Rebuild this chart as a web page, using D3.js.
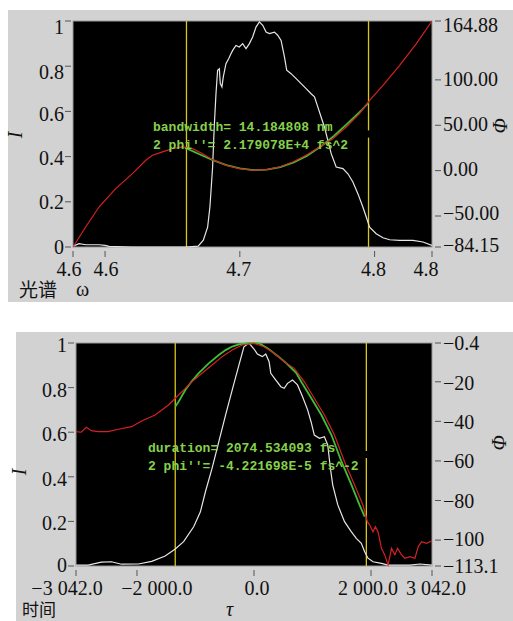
<!DOCTYPE html>
<html>
<head>
<meta charset="utf-8">
<script src="https://cdn.jsdelivr.net/npm/d3@7"></script>
<style>
  body { margin: 0; background: #fff; }
  svg { display: block; }
</style>
</head>
<body>
<svg id="chart" width="513" height="621"></svg>
<script>
// ---- top panel: spectrum ----
const specOmegaTicks = [4.5762, 4.6, 4.7, 4.8, 4.8426];
const specPhaseTicks = [164.88, 100, 50, 0, -50, -84.15];
const specCursors = [4.6604, 4.7955];
const specText = ["bandwidth= 14.184808 nm", "2 phi''= 2.179078E+4 fs^2"];

// intensity (white)
const specOmega = [4.5762, 4.5807, 4.5856, 4.5906, 4.5955, 4.6, 4.603, 4.62, 4.64, 4.66, 4.6691, 4.6729, 4.6761,
  4.6778, 4.6798, 4.681, 4.6823, 4.6835, 4.6848, 4.6855, 4.6867, 4.6877, 4.6897, 4.6917, 4.6934, 4.6947,
  4.6971, 4.6996, 4.7021, 4.7046, 4.7071, 4.7095, 4.712, 4.7145, 4.717, 4.7195, 4.7219, 4.7257, 4.7281,
  4.7306, 4.7331, 4.7348, 4.738, 4.7418, 4.7455, 4.7492, 4.7529, 4.7554, 4.7579, 4.7603, 4.7628, 4.7653,
  4.7678, 4.7715, 4.7765, 4.7802, 4.7839, 4.7876, 4.7913, 4.7938, 4.7963, 4.8012, 4.8062, 4.8112, 4.8186,
  4.8285, 4.8359, 4.8426];
const specI = [0.004, 0.015, 0.01, 0.01, 0.01, 0.007, 0.003, 0, 0, 0, 0.004, 0.03, 0.088,
  0.177, 0.354, 0.531, 0.678, 0.782, 0.789, 0.723, 0.708, 0.752, 0.811, 0.833, 0.855, 0.87,
  0.892, 0.885, 0.9, 0.878, 0.9, 0.929, 0.973, 0.996, 0.981, 0.951, 0.944, 0.951, 0.937,
  0.914, 0.841, 0.782, 0.767, 0.745, 0.723, 0.701, 0.678, 0.664, 0.619, 0.575, 0.531, 0.472,
  0.413, 0.354, 0.347, 0.324, 0.288, 0.236, 0.177, 0.133, 0.088, 0.059, 0.041, 0.032, 0.029,
  0.029, 0.022, 0.007];

// phase (red)
const specPhaseOmega = [4.5762, 4.5856, 4.5955, 4.6079, 4.6203, 4.6302, 4.6352, 4.6426, 4.6501, 4.6575,
  4.6649, 4.6724, 4.6798, 4.6897, 4.6996, 4.7095, 4.7195, 4.7294, 4.7393, 4.7492, 4.7591, 4.769,
  4.7789, 4.7888, 4.7963, 4.8062, 4.8186, 4.831, 4.8426];
const specPhase = [-84.15, -62.1, -40.1, -19.8, -3.3, 11.4, 16.9, 20.6, 24.2, 26.1,
  24.2, 18.7, 12.1, 5.9, 2.2, 0.4, 1.1, 4.0, 9.5, 16.9, 26.1, 35.2,
  48.1, 62.8, 77.5, 94.0, 116.0, 139.9, 164.88];

// fit (green)
const specFitOmega = [4.6604, 4.67, 4.68, 4.69, 4.70, 4.71, 4.72, 4.73, 4.74, 4.75, 4.76, 4.77, 4.78, 4.79, 4.7955];
const specFit = [24.5, 18.0, 11.5, 6.0, 2.5, 0.6, 1.0, 3.8, 9.0, 16.5, 26.5, 38.5, 52.0, 66.0, 75.0];

// ---- bottom panel: time ----
const timeTauTicks = [-3042, -2000, 0, 2000, 3042];
const timePhaseTicks = [-0.4, -20, -40, -60, -80, -100, -113.1];
const timeCursors = [-1346, 1920];
const timeText = ["duration= 2074.534093 fs", "2 phi''= -4.221698E-5 fs^-2"];

const timeTau = [-3042, -2836, -2608, -2436, -2264, -1977, -1748, -1518, -1346, -1203, -1031, -916, -830,
  -717, -602, -486, -373, -258, -172, -86, 0, 57, 143, 201, 258, 287, 373, 459, 516, 573, 659, 744, 830,
  916, 975, 1031, 1117, 1203, 1260, 1306, 1346, 1432, 1547, 1662, 1748, 1834, 1891, 1948, 2034, 2178,
  2291, 2664, 2836, 3042];
const timeI = [0.004, 0.004, 0.017, 0.019, 0.008, 0.009, 0.021, 0.045, 0.076, 0.109, 0.176, 0.243, 0.333,
  0.438, 0.557, 0.677, 0.789, 0.901, 0.983, 1.0, 0.973, 0.951, 0.939, 0.951, 0.916, 0.864, 0.834, 0.804,
  0.797, 0.819, 0.834, 0.812, 0.759, 0.7, 0.647, 0.587, 0.573, 0.58, 0.543, 0.438, 0.363, 0.274, 0.199,
  0.154, 0.124, 0.102, 0.064, 0.035, 0.019, 0.012, 0.004, 0.004, 0.009, 0.004];

const timePhaseTau = [-3042, -2952, -2866, -2780, -2664, -2493, -2321, -2092, -1920, -1690, -1461, -1346,
  -1174, -1061, -889, -717, -545, -373, -201, 0, 172, 344, 516, 688, 860, 1031, 1203, 1375, 1547, 1719,
  1862, 1937, 1977, 2034, 2075, 2120, 2178, 2235, 2291, 2350, 2407, 2453, 2522, 2579, 2664, 2750, 2807,
  2865, 2951, 3038];
const timePhase = [-45.2, -45.5, -43.0, -44.7, -45.2, -45.2, -44.0, -42.7, -39.8, -36.8, -31.7, -28.3,
  -23.3, -20.0, -15.7, -11.5, -7.3, -3.9, -1.4, -0.6, -2.3, -5.6, -9.9, -13.2, -20.0, -28.3, -36.8, -46.9,
  -60.4, -72.2, -82.3, -90.7, -92.4, -95.8, -93.2, -95.8, -104.2, -107.5, -112.6, -104.2, -107.5, -104.2,
  -107.5, -109.2, -108.4, -109.2, -103.3, -100.8, -101.6, -100.5];

const timeFitTau = [-1346, -1289, -1174, -1061, -945, -774, -602, -486, -373, -258, -86, 86, 230, 400,
  560, 720, 808, 980, 1152, 1324, 1496, 1667, 1805, 1891];
const timeFit = [-32.6, -30.1, -24.2, -19.6, -15.6, -10.7, -6.5, -4.0, -2.2, -1.1, -0.4, -0.5, -3.0, -6.8,
  -10.8, -15.5, -20.0, -28.3, -36.8, -46.9, -60.4, -72.2, -82.3, -88.2];

const svg = d3.select('#chart');
const serif = '"Liberation Serif", "DejaVu Serif", serif';
const cjk = '"Noto Sans CJK SC", sans-serif';

const loc = d3.formatLocale({decimal: ".", thousands: " ", grouping: [3], currency: ["", ""], minus: "\u2212"});

function zip(xs, ys) { return xs.map((x, i) => [x, ys[i]]); }

function drawPanel(p) {
  const g = svg.append('g');
  g.append('rect').attr('x', p.bg[0]).attr('y', p.bg[1]).attr('width', p.bg[2]).attr('height', p.bg[3])
    .attr('fill', '#d2d2d2');

  const x = d3.scaleLinear().domain(p.xDomain).range([p.left, p.right]);
  const yI = d3.scaleLinear().domain([0, 1]).range([p.bottom, p.top]);
  const yP = d3.scaleLinear().domain(p.pDomain).range([p.bottom, p.top]);

  g.append('rect').attr('x', p.left).attr('y', p.top)
    .attr('width', p.right - p.left).attr('height', p.bottom - p.top)
    .attr('fill', '#000').attr('stroke', '#9a9a9a').attr('stroke-width', 1);

  // cursors, with the little break in the right one
  const h = p.bottom - p.top;
  p.cursors.forEach((c, i) => {
    const segs = i === 1 ? [[p.top, p.top + h * 0.484], [p.top + h * 0.516, p.bottom]] : [[p.top, p.bottom]];
    segs.forEach(s => g.append('line').attr('x1', x(c)).attr('x2', x(c)).attr('y1', s[0]).attr('y2', s[1])
      .attr('stroke', '#d9c51c').attr('stroke-width', 1.3));
  });

  const clip = 'clip' + p.id;
  g.append('clipPath').attr('id', clip).append('rect')
    .attr('x', p.left).attr('y', p.top - 1).attr('width', p.right - p.left).attr('height', h + 2);
  const plot = g.append('g').attr('clip-path', `url(#${clip})`);

  const lineI = d3.line().x(d => x(d[0])).y(d => yI(d[1]));
  const lineP = d3.line().x(d => x(d[0])).y(d => yP(d[1]));

  plot.append('path').attr('d', lineI(zip(p.iX, p.iY)))
    .attr('fill', 'none').attr('stroke', '#e6e6e6').attr('stroke-width', 1.2);
  plot.append('path').attr('d', lineP(zip(p.fitX, p.fitY)))
    .attr('fill', 'none').attr('stroke', '#3fbf35').attr('stroke-width', 1.8);
  plot.append('path').attr('d', lineP(zip(p.pX, p.pY)))
    .attr('fill', 'none').attr('stroke', '#d42222').attr('stroke-width', 1.2);

  // annotation
  p.text.forEach((t, i) => {
    g.append('text').attr('x', p.textPos[0]).attr('y', p.textPos[1] + i * 18)
      .attr('font-family', '"Liberation Mono", monospace').attr('font-size', 13).attr('font-weight', 'bold')
      .attr('fill', '#86d14c').attr('xml:space', 'preserve').text(t);
  });

  // left axis
  const tickColor = '#555';
  [0, 0.2, 0.4, 0.6, 0.8, 1].forEach((v, i) => {
    g.append('line').attr('x1', p.left - 8).attr('x2', p.left - 2).attr('y1', yI(v)).attr('y2', yI(v))
      .attr('stroke', tickColor);
    g.append('text').attr('x', p.left - 9).attr('y', yI(v) + p.lDy[i]).attr('dy', '0.35em')
      .attr('text-anchor', 'end').attr('font-family', serif).attr('font-size', 20).attr('fill', '#111')
      .text(d3.format('~g')(v));
  });

  // right axis
  p.pTicks.forEach((v, i) => {
    g.append('line').attr('x1', p.right + 3).attr('x2', p.right + 9).attr('y1', yP(v)).attr('y2', yP(v))
      .attr('stroke', tickColor);
    g.append('text').attr('x', p.right + 11).attr('y', yP(v) + p.rDy[i]).attr('dy', '0.35em')
      .attr('font-family', serif).attr('font-size', 20).attr('fill', '#111')
      .text(p.pFormat(v));
  });

  // bottom axis
  p.xTicks.forEach((v, i) => {
    g.append('line').attr('x1', x(v)).attr('x2', x(v)).attr('y1', p.bottom + 4).attr('y2', p.bottom + 10)
      .attr('stroke', tickColor);
    g.append('text').attr('x', x(v) + p.xDx[i]).attr('y', p.bottom + 29)
      .attr('text-anchor', 'middle').attr('font-family', serif).attr('font-size', 20).attr('fill', '#111')
      .text(p.xFormat(v));
  });

  // axis names
  g.append('text').attr('transform', `translate(${p.iLabel[0]},${p.iLabel[1]}) rotate(-90)`)
    .attr('text-anchor', 'middle').attr('font-family', serif).attr('font-style', 'italic')
    .attr('font-size', 20).attr('fill', '#111').text('I');
  g.append('text').attr('transform', `translate(${p.phiLabel[0]},${p.phiLabel[1]}) rotate(-90)`)
    .attr('text-anchor', 'middle').attr('font-family', serif).attr('font-style', 'italic')
    .attr('font-size', 20).attr('fill', '#111').text('Φ');
  g.append('text').attr('x', p.name[0]).attr('y', p.name[1]).attr('font-family', cjk)
    .attr('font-size', p.name[3]).attr('fill', '#111').text(p.name[2]);
  g.append('text').attr('x', p.sym[0]).attr('y', p.sym[1]).attr('font-family', serif)
    .attr('font-style', p.sym[3]).attr('font-size', 20).attr('fill', '#111').text(p.sym[2]);
}

drawPanel({
  id: 'top', bg: [8, 10, 505, 292],
  left: 73, right: 432, top: 21, bottom: 247,
  xDomain: [4.5762, 4.8426], pDomain: [-84.15, 164.88],
  xTicks: specOmegaTicks, xDx: [-4, 1, -1, -1, -6], xFormat: d3.format('.1f'),
  pTicks: specPhaseTicks, rDy: [4, -1, -1, -2, -3, -2], pFormat: v => loc.format('.2f')(v),
  lDy: [0, 0, 1, 3, 6, 6],
  cursors: specCursors,
  iX: specOmega, iY: specI, pX: specPhaseOmega, pY: specPhase, fitX: specFitOmega, fitY: specFit,
  text: specText, textPos: [153, 131],
  iLabel: [22, 135], phiLabel: [507, 126],
  name: [19, 297, '光谱', 19], sym: [76, 296, 'ω', 'normal']
});

drawPanel({
  id: 'bot', bg: [16, 332, 497, 289],
  left: 76, right: 432, top: 343, bottom: 566,
  xDomain: [-3042, 3042], pDomain: [-113.1, -0.4],
  xTicks: timeTauTicks, xDx: [-9, 20, 3, -3, 4], xFormat: v => loc.format(',.1f')(v),
  pTicks: timePhaseTicks, rDy: [0, 1, 1, 0, 0, -1, 0],
  pFormat: v => Number.isInteger(v) ? loc.format('d')(v) : loc.format('.1f')(v),
  lDy: [-1, 2, 2, 2, 2, 2],
  cursors: timeCursors,
  iX: timeTau, iY: timeI, pX: timePhaseTau, pY: timePhase, fitX: timeFitTau, fitY: timeFit,
  text: timeText, textPos: [148, 452],
  iLabel: [26, 472], phiLabel: [506, 443],
  name: [22, 616, '时间', 17], sym: [226, 616, 'τ', 'italic']
});
</script>
</body>
</html>
